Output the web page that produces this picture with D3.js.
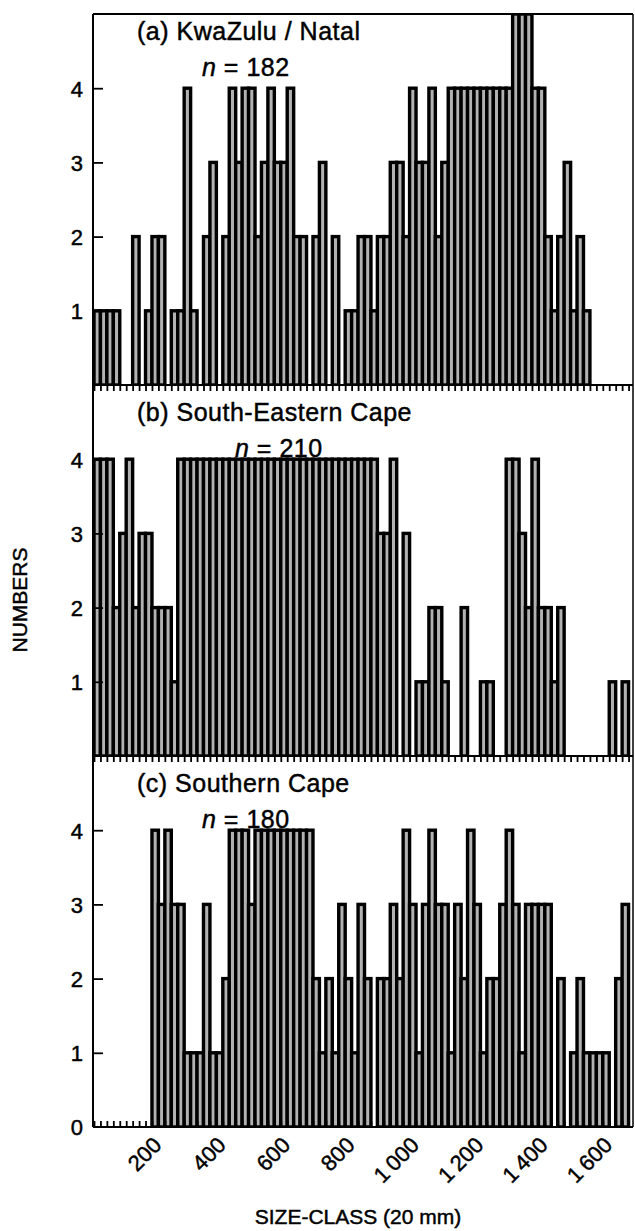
<!DOCTYPE html>
<html>
<head>
<meta charset="utf-8">
<script src="https://cdn.jsdelivr.net/npm/d3@7/dist/d3.min.js"></script>
<style>
  body { margin: 0; background: #fff; }
  text { font-family: "Liberation Sans", Arial, Helvetica, sans-serif; fill: #000; stroke: #000; stroke-width: 0.45px; }
</style>
</head>
<body>
<div id="chart"></div>
<script>
// numbers per 20 mm size-class, the first class starts at 0 mm
var binWidth = 20;
var kwazulu = [1,1,1,1,0,0,2,0,1,2, 2,0,1,1,4,1,0,2,3,0, 2,4,3,4,4,2,3,4,3,3,
               4,2,2,0,2,3,0,2,0,1, 1,2,2,1,2,2,3,3,2,4, 3,3,4,2,3,4,4,4,4,4,
               4,4,4,4,4,5,5,5,4,4, 2,1,2,3,1,2,1];
var seCape  = [4,4,4,2,3,4,2,3,3,2, 2,2,1,4,4,4,4,4,4,4, 4,4,4,4,4,4,4,4,4,4,
               4,4,4,4,4,4,4,4,4,4, 4,4,4,4,3,3,4,0,3,0, 1,1,2,2,1,0,0,2,0,0,
               1,1,0,0,4,4,3,2,4,2, 2,1,2,0,0,0,0,0,0,0, 1,0,1,0];
var sCape   = [0,0,0,0,0,0,0,0,0,4, 3,4,3,3,1,1,1,3,1,1, 2,4,4,4,3,4,4,4,4,4,
               4,4,4,4,2,1,2,1,3,2, 1,3,2,0,2,2,3,2,4,3, 1,3,4,3,3,1,3,2,4,3,
               1,2,2,3,4,3,1,3,3,3, 3,0,2,0,1,2,1,1,1,1, 0,2,3,0];

var regions = ["(a) KwaZulu / Natal", "(b) South-Eastern Cape", "(c) Southern Cape"];
var sampleSizes = [182, 210, 180];
var yTickValues = [1, 2, 3, 4];
var xTickValues = [200, 400, 600, 800, 1000, 1200, 1400, 1600];

var series = [kwazulu, seCape, sCape];

var width = 635, height = 1231;
var panelTop = [14, 385, 756],
    panelH = 371,
    rightEdge = 633;

var svg = d3.select("#chart").append("svg")
    .attr("width", width)
    .attr("height", height);

var x = d3.scaleLinear()
    .domain([0, 1680])
    .range([94, 635]);

var minorTicks = d3.range(0, 1680, binWidth);
var axisX = x(0) - 1;

series.forEach(function (counts, p) {
  var top = panelTop[p], base = top + panelH;
  var y = d3.scaleLinear().domain([0, 5]).range([base, top]);

  var g = svg.append("g").attr("class", "panel");

  g.append("clipPath").attr("id", "clip" + p)
    .append("rect")
    .attr("x", axisX).attr("y", top)
    .attr("width", rightEdge - axisX).attr("height", panelH);

  // bars (scanned look: heavy outline, pale core)
  g.append("g")
      .attr("clip-path", "url(#clip" + p + ")")
    .selectAll("rect")
    .data(counts.map(function (v, i) { return { start: i * binWidth, n: v }; })
                .filter(function (d) { return d.n > 0; }))
    .enter().append("rect")
      .attr("x", function (d) { return x(d.start); })
      .attr("width", function (d) { return x(d.start + binWidth) - x(d.start); })
      .attr("y", function (d) { return y(d.n); })
      .attr("height", function (d) { return base - y(d.n); })
      .attr("fill", "#b2b2b2")
      .attr("stroke", "#000")
      .attr("stroke-width", 3.4);

  // y axis, ticks pointing inward
  var yAxis = g.append("g")
      .attr("transform", "translate(" + axisX + ",0)")
      .call(d3.axisLeft(y)
        .tickValues(p == 2 ? [0].concat(yTickValues) : yTickValues)
        .tickSize(-10)
        .tickPadding(10)
        .tickFormat(d3.format("d")));
  yAxis.select(".domain").remove();
  yAxis.selectAll(".tick line").attr("stroke-width", 1.8);
  yAxis.selectAll(".tick text")
      .style("font-size", "22px")
      .attr("dy", "0.36em");
  yAxis.selectAll(".tick").filter(function (d) { return d == 0; })
      .select("line").remove();

  // frame of the panel
  [top, base].forEach(function (yy) {
    g.append("line")
        .attr("x1", axisX).attr("x2", rightEdge)
        .attr("y1", yy).attr("y2", yy)
        .attr("stroke", "#000").attr("stroke-width", 2);
  });

  // small size-class ticks along the top of panels b and c
  if (p > 0) {
    var tAxis = g.append("g")
        .attr("transform", "translate(0," + top + ")")
        .call(d3.axisTop(x).tickValues(minorTicks).tickSize(-6).tickFormat(""));
    tAxis.select(".domain").remove();
    tAxis.selectAll(".tick line").attr("stroke-width", 1.8);
  }

  // region label and sample size
  var titleY = p == 0 ? top + 26 : top + 36;
  g.append("text")
      .attr("x", 137).attr("y", titleY)
      .style("font-size", "25px")
      .style("letter-spacing", "0.5px")
      .text(regions[p]);
  var nx = p == 1 ? 235 : 202;
  var nt = g.append("text")
      .attr("x", nx).attr("y", titleY + 36)
      .style("font-size", "25px")
      .style("letter-spacing", "0.5px");
  nt.append("tspan").style("font-style", "italic").text("n");
  nt.append("tspan").text(" = " + sampleSizes[p]);
});

// bottom axis of the last panel
var bottom = panelTop[2] + panelH;
var bAxis = svg.append("g")
    .attr("transform", "translate(0," + bottom + ")")
    .call(d3.axisBottom(x).tickValues(minorTicks).tickSize(-6).tickFormat(""));
bAxis.select(".domain").remove();
bAxis.selectAll(".tick line").attr("stroke-width", 1.8);

var fmt = function (v) {
  return v >= 1000 ? Math.floor(v / 1000) + "\u2009" + d3.format("03d")(v % 1000) : String(v);
};
svg.append("g").selectAll("text")
    .data(xTickValues)
    .enter().append("text")
      .attr("transform", function (d) {
        return "translate(" + (x(d) - 1) + "," + (bottom + 14) + ") rotate(-45)";
      })
      .attr("text-anchor", "end")
      .attr("dy", "0.35em")
      .style("font-size", "22px")
      .text(fmt);

// left axis line and right edge
svg.append("line")
    .attr("x1", axisX).attr("x2", axisX)
    .attr("y1", panelTop[0]).attr("y2", bottom)
    .attr("stroke", "#000").attr("stroke-width", 2);
svg.append("line")
    .attr("x1", rightEdge).attr("x2", rightEdge)
    .attr("y1", panelTop[0]).attr("y2", bottom)
    .attr("stroke", "#000").attr("stroke-width", 1.5);

svg.append("text")
    .attr("transform", "translate(27,600) rotate(-90)")
    .attr("text-anchor", "middle")
    .style("font-size", "21px")
    .text("NUMBERS");

svg.append("text")
    .attr("x", 358).attr("y", 1224)
    .attr("text-anchor", "middle")
    .style("font-size", "21px")
    .text("SIZE-CLASS (20 mm)");
</script>
</body>
</html>
